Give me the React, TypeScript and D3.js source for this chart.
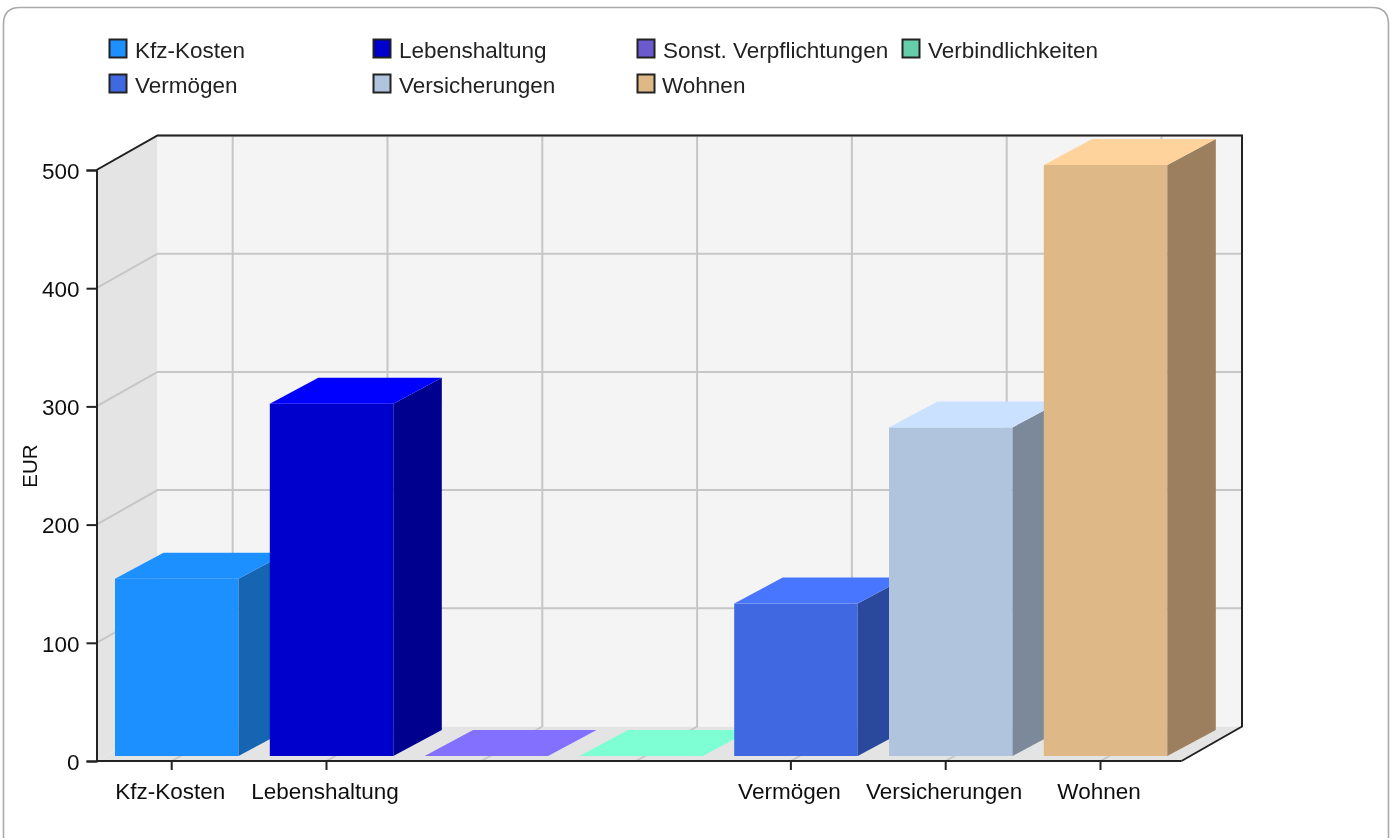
import { useEffect, useRef } from 'react';
import * as d3 from 'd3';

const categories = ['Kfz-Kosten', 'Lebenshaltung', 'Sonst. Verpflichtungen', 'Verbindlichkeiten', 'Vermögen', 'Versicherungen', 'Wohnen'];
const values = [150, 298, 0, 0, 129, 278, 500];
const axisLabels = ['Kfz-Kosten', 'Lebenshaltung', '', '', 'Vermögen', 'Versicherungen', 'Wohnen'];
const yTicks = [0, 100, 200, 300, 400, 500];

const frontColors = ['#1e90ff', '#0000cd', '#8470ff', '#7fffd4', '#4169e1', '#b0c4de', '#deb887'];
const topColors = ['#1e90ff', '#0000ff', '#8470ff', '#7fffd4', '#4876ff', '#cae1ff', '#ffd39b'];
const sideColors = ['#1565b2', '#00008f', '#6a5acd', '#66cdaa', '#2a4a9d', '#7b899b', '#9b7f5e'];
const legendColors = ['#1e90ff', '#0000cd', '#6a5acd', '#66cdaa', '#4169e1', '#b0c4de', '#deb887'];
const legendColumns = [109, 373, 637, 902];
const legendRows = [39, 74];

const FONT = '"Liberation Sans", Arial, sans-serif';

const App = () => {
  const svgRef = useRef<SVGSVGElement>(null);

  useEffect(() => {
    const root = d3.select(svgRef.current);
    root.selectAll('*').remove();

    // The reference is a slightly soft, upscaled picture
    root.append('defs')
      .append('filter')
      .attr('id', 'soft')
      .attr('filterUnits', 'userSpaceOnUse')
      .attr('x', 0)
      .attr('y', 0)
      .attr('width', 1392)
      .attr('height', 840)
      .append('feGaussianBlur')
      .attr('stdDeviation', 0.45);
    const svg = root.append('g').attr('filter', 'url(#soft)');

    // Plot geometry, front plane of the 3D box
    const left = 96.5;
    const right = 1181.5;
    const bottom = 761;
    const top = 170;
    const depthX = 61;
    const depthY = 34.5;
    const barDepthX = 48.5;
    const barDepthY = 26;
    const barLift = 5;
    const barWidth = 123.5;

    const y = d3.scaleLinear().domain([0, 500]).range([bottom, top]);
    const x = d3.scaleBand().domain(categories).range([94.3, 1177.9]);
    const tickX = (c: string) => x(c)! + x.bandwidth() / 2;

    // Outer frame, runs off the bottom of the picture
    svg.append('path')
      .attr('d', 'M3.5,838 V24 Q3.5,7.5 20,7.5 H1372 Q1388.5,7.5 1388.5,24 V838')
      .attr('fill', 'none')
      .attr('stroke', '#aaaaaa')
      .attr('stroke-width', 1.6);

    // Walls
    const poly = (pts: number[][]) => pts.map(p => p.join(',')).join(' ');
    const backTop = top - depthY;
    const backBottom = bottom - depthY;
    const backLeft = left + depthX;
    const backRight = right + depthX - 0.5;

    svg.append('polygon')
      .attr('points', poly([[left, bottom], [left, top], [backLeft, backTop], [backLeft, backBottom]]))
      .attr('fill', '#e4e4e4');
    svg.append('polygon')
      .attr('points', poly([[left, bottom], [backLeft, backBottom], [backRight, backBottom], [right, bottom]]))
      .attr('fill', '#e4e4e4');
    svg.append('rect')
      .attr('x', backLeft)
      .attr('y', backTop)
      .attr('width', backRight - backLeft)
      .attr('height', backBottom - backTop)
      .attr('fill', '#f4f4f4');

    // Gridlines
    const grid = svg.append('g').attr('fill', 'none').attr('stroke', '#c6c6c6').attr('stroke-width', 2);
    yTicks.filter(d => d > 0).forEach(d => {
      grid.append('polyline')
        .attr('points', poly([[left, y(d)], [backLeft, y(d) - depthY], [backRight, y(d) - depthY]]));
    });
    categories.forEach(c => {
      grid.append('polyline')
        .attr('points', poly([[tickX(c), bottom], [tickX(c) + depthX, backBottom], [tickX(c) + depthX, backTop]]));
    });

    // Bars, left to right so each one covers the side of the one before
    categories.forEach((c, i) => {
      const x0 = tickX(c) - 56.7;
      const x1 = x0 + barWidth;
      const y0 = bottom - barLift;
      const y1 = y(values[i]) - barLift;
      const bar = svg.append('g');
      if (values[i] > 0) {
        bar.append('rect')
          .attr('x', x0)
          .attr('y', y1)
          .attr('width', barWidth)
          .attr('height', y0 - y1)
          .attr('fill', frontColors[i]);
        bar.append('polygon')
          .attr('points', poly([[x1, y0], [x1, y1], [x1 + barDepthX, y1 - barDepthY], [x1 + barDepthX, y0 - barDepthY]]))
          .attr('fill', sideColors[i]);
      }
      bar.append('polygon')
        .attr('points', poly([[x0, y1], [x0 + barDepthX, y1 - barDepthY], [x1 + barDepthX, y1 - barDepthY], [x1, y1]]))
        .attr('fill', topColors[i]);
    });

    // Box outline on top of the walls
    svg.append('polyline')
      .attr('points', poly([[left, top], [backLeft, backTop], [backRight, backTop], [backRight, backBottom], [right, bottom]]))
      .attr('fill', 'none')
      .attr('stroke', '#222')
      .attr('stroke-width', 2);

    // Axes
    const yAxis = svg.append('g')
      .attr('transform', `translate(${left},0)`)
      .call(d3.axisLeft(y).tickValues(yTicks).tickSize(10).tickPadding(7));
    const xAxis = svg.append('g')
      .attr('transform', `translate(0,${bottom})`)
      .call(d3.axisBottom(x).tickSize(9).tickPadding(13).tickFormat((_, i) => axisLabels[i]));

    [yAxis, xAxis].forEach(axis => {
      axis.attr('font-family', FONT).attr('font-size', 22.5);
      axis.selectAll('text').attr('fill', '#111');
      axis.selectAll('line, path').attr('stroke', '#222').attr('stroke-width', 2);
    });
    yAxis.selectAll('text').attr('y', 1);
    xAxis.selectAll('text').attr('x', -1.5);
    xAxis.select('.domain').attr('d', `M${left},0H${right}`);
    // The two empty categories carry no tick mark in the reference
    xAxis.selectAll('.tick').filter((_, i) => axisLabels[i] === '').remove();

    // Axis title
    svg.append('text')
      .attr('transform', 'translate(36.5,466) rotate(-90)')
      .attr('text-anchor', 'middle')
      .attr('font-family', FONT)
      .attr('font-size', 20.5)
      .attr('fill', '#111')
      .text('EUR');

    // Legend
    categories.forEach((c, i) => {
      const lx = legendColumns[i % 4];
      const ly = legendRows[Math.floor(i / 4)];
      svg.append('rect')
        .attr('x', lx + 0.5)
        .attr('y', ly + 0.5)
        .attr('width', 17)
        .attr('height', 18)
        .attr('fill', legendColors[i])
        .attr('stroke', '#222')
        .attr('stroke-width', 2);
      svg.append('text')
        .attr('x', c === 'Wohnen' ? lx + 25 : lx + 26)
        .attr('y', ly + 18.5)
        .attr('font-family', FONT)
        .attr('font-size', 22.5)
        .attr('fill', '#222')
        .text(c);
    });
  }, []);

  return <svg ref={svgRef} width={1392} height={840} style={{ position: 'absolute', left: 0, top: 0 }}></svg>;
};

export default App;
